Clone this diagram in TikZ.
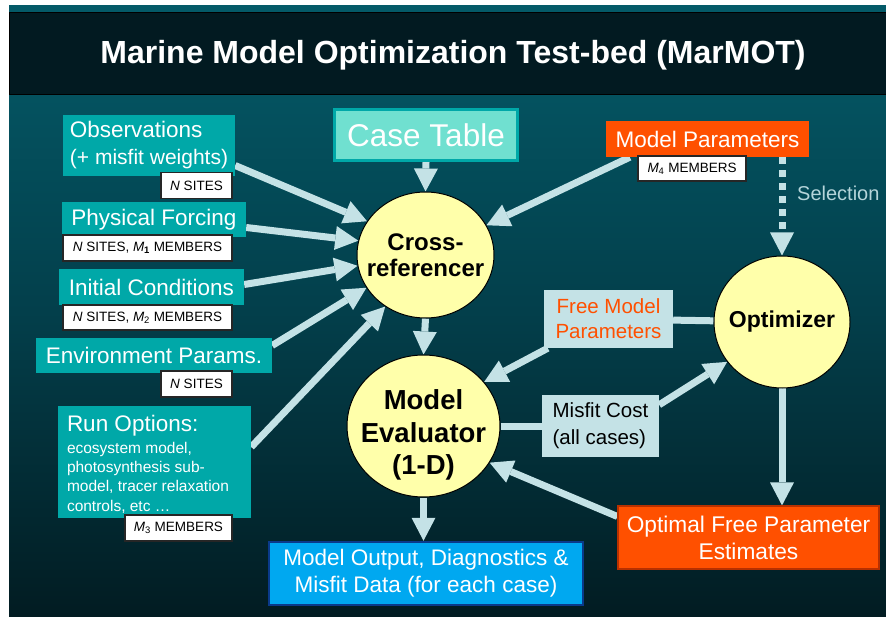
\documentclass[tikz,border=0pt]{standalone}
\usepackage{fontspec}
\setmainfont{Liberation Sans}
\usetikzlibrary{arrows.meta,shapes.geometric}
\pgfdeclarelayer{back}
\pgfdeclarelayer{bg}
\pgfsetlayers{back,bg,main}
\definecolor{bgtop}{HTML}{045A68}
\definecolor{bgmid}{HTML}{033F4B}
\definecolor{bgbot}{HTML}{021C22}
\definecolor{titlebg}{HTML}{021A21}
\definecolor{tealbox}{HTML}{00A8A8}
\definecolor{casefill}{HTML}{70E0D0}
\definecolor{orng}{HTML}{FF5000}
\definecolor{orngdark}{HTML}{B83000}
\definecolor{lightb}{HTML}{C4E2E6}
\definecolor{yel}{HTML}{FFFFAA}
\definecolor{skyb}{HTML}{00A8F0}
\definecolor{navy}{HTML}{0A3A8A}
\definecolor{selc}{HTML}{B5D5DA}
\newcommand{\zb}[1]{\makebox[0pt]{#1}}
\newcommand{\ctext}[2]{\raisebox{#1}[0pt][0pt]{\makebox[0pt]{\begin{tabular}{@{}c@{}}#2\end{tabular}}}}
\tikzset{
  tbox/.style={rectangle, fill=tealbox, text=white, inner sep=0pt, font=\fontsize{22.5}{27}\selectfont},
  lbl/.style={rectangle, fill=white, draw=black!85, line width=1.2pt, inner sep=0pt, text=black, font=\fontsize{13.5}{15}\selectfont},
  bubble/.style={ellipse, fill=yel, draw=black, line width=1pt, inner sep=0pt, align=center, text=black},
  pale/.style={rectangle, fill=lightb, inner sep=0pt},
  conn/.style={draw=lightb, line width=7pt},
  arr/.style={conn, -{Triangle[width=24pt,length=23pt,line width=0pt]}},
  darr/.style={arr, dash pattern=on 7pt off 6pt}
}
\begin{document}
\begin{tikzpicture}[x=1pt,y=-1pt]
\useasboundingbox (0,0) rectangle (886,617);
\begin{pgfonlayer}{back}
\fill[white] (0,0) rectangle (886,617);
\shade[top color=bgtop, bottom color=bgbot, middle color=bgmid] (9,6) rectangle (886,617);
\fill[bgtop] (9,6) rectangle (886,20);
\draw[fill=titlebg, draw=black, line width=1pt] (9.5,13) rectangle (886,95);
\end{pgfonlayer}
\node[text=white, font=\fontsize{32}{38}\selectfont\bfseries] (title) at (453,55) {Marine Model Optimization Test-bed (MarMOT)};

% input boxes
\node[tbox, minimum width=172pt, minimum height=61pt, align=left] (obs) at (149,145.5) {Observations\\{\fontsize{21}{27}\selectfont (+ misfit weights)}};
\node[tbox, minimum width=184pt, minimum height=35pt] (pf) at (154,219.5) {Physical Forcing};
\node[tbox, minimum width=185pt, minimum height=36pt] (ic) at (151.5,287.5) {Initial Conditions};
\node[tbox, minimum width=236pt, minimum height=35pt] (env) at (154,355.5) {Environment Params.};
\node[tbox, minimum width=193pt, minimum height=112pt] (run) at (154.5,462)
  {\begin{minipage}{175pt}\raggedright\vspace*{4pt}\fontsize{22.5}{24}\selectfont Run Options:\par\vspace{3pt}\fontsize{15.5}{19.3}\selectfont ecosystem model,\\photosynthesis sub-\\model, tracer relaxation\\controls, etc \dots\par\end{minipage}};

% labels
\node[lbl, minimum width=71pt, minimum height=26pt] (l1) at (196.5,185.5) {\itshape N\upshape\ SITES};
\node[lbl, minimum width=169pt, minimum height=26pt] (l2) at (147.5,248) {\itshape N\upshape\ SITES, \itshape M\upshape\textsubscript{\bfseries 1} MEMBERS};
\node[lbl, minimum width=169pt, minimum height=25pt] (l3) at (147.5,317.5) {\itshape N\upshape\ SITES, \itshape M\upshape\textsubscript{2} MEMBERS};
\node[lbl, minimum width=71pt, minimum height=26pt] (l4) at (196.5,384) {\itshape N\upshape\ SITES};
\node[lbl, minimum width=107pt, minimum height=26pt] (l5) at (178.5,528) {\itshape M\upshape\textsubscript{3} MEMBERS};

% case table
\node[rectangle, fill=casefill, draw=tealbox, line width=3pt, inner sep=0pt, minimum width=183pt, minimum height=51pt, text=white, font=\fontsize{31.5}{36}\selectfont] (ct) at (426,135) {Case Table};

% model parameters
\node[rectangle, fill=orng, inner sep=0pt, minimum width=203pt, minimum height=36pt, text=white, font=\fontsize{22.5}{27}\selectfont] (mp) at (707.5,139) {Model Parameters};
\node[lbl, minimum width=108pt, minimum height=25pt] (l6) at (692,168.5) {\itshape M\upshape\textsubscript{4} MEMBERS};

% bubbles
\node[bubble, minimum width=137pt, minimum height=126pt, font=\fontsize{24}{26}\selectfont\bfseries] (xref) at (425.5,255) {\zb{Cross-}\\\zb{referencer}};
\node[bubble, minimum width=153pt, minimum height=142pt, font=\fontsize{27.5}{32.5}\selectfont\bfseries] (meval) at (423.5,426) {\ctext{-16pt}{Model\\Evaluator\\(1-D)}};
\node[bubble, minimum width=136pt, minimum height=132pt, font=\fontsize{23}{27}\selectfont\bfseries] (opt) at (782,322) {\zb{Optimizer}};

% right side boxes
\node[pale, minimum width=129pt, minimum height=58pt, align=center, text=orng, font=\fontsize{20.5}{25}\selectfont] (free) at (608.5,319) {Free Model\\Parameters};
\node[pale, minimum width=117pt, minimum height=62pt, align=left, text=black, font=\fontsize{20.5}{27}\selectfont] (misfit) at (600.5,426) {Misfit Cost\\(all cases)};
\node[rectangle, fill=orng, draw=orngdark, line width=1.2pt, inner sep=0pt, minimum width=261pt, minimum height=63pt, align=center, text=white, font=\fontsize{22.7}{27}\selectfont] (optimal) at (748.5,537.5) {Optimal Free Parameter\\Estimates};
\node[rectangle, fill=skyb, draw=navy, line width=2.5pt, inner sep=0pt, minimum width=314pt, minimum height=63pt, align=center, text=white, font=\fontsize{22.5}{27}\selectfont] (mout) at (426,573.5) {Model Output, Diagnostics \&\\Misfit Data (for each case)};

\node[anchor=west, text=selc, font=\fontsize{20}{24}\selectfont, inner sep=0pt] (sel) at (797,193) {Selection};

% connectors
\begin{pgfonlayer}{bg}
\draw[arr] ([yshift=-20pt]obs.east) -- (xref.150);
\draw[arr] ([yshift=-8pt]pf.east) -- (xref.168);
\draw[arr] ([yshift=3pt]ic.east) -- (xref.189);
\draw[arr] ([yshift=10pt]env.east) -- (xref.209);
\draw[arr] ([yshift=15pt]run.east) -- (xref.232);
\draw[arr] ([xshift=24pt]mp.south west) -- (xref.26);
\draw[arr] (ct.south) -- (xref.north);
\draw[arr] (xref.south) -- (meval.north);
\draw[darr] (opt.north |- mp.south) -- (opt.north);
\draw[conn] (opt) -- (free);
\draw[arr] ([xshift=4pt]free.south west) -- (meval.36);
\draw[conn] (meval) -- (misfit);
\draw[arr] ([yshift=-10pt]misfit.north east) -- (opt.216);
\draw[arr] (opt.south) -- (opt.south |- optimal.north);
\draw[arr] ([yshift=21pt]optimal.west) -- (meval.331);
\draw[arr] (meval.south) -- (meval.south |- mout.north);
\end{pgfonlayer}
\end{tikzpicture}
\end{document}
